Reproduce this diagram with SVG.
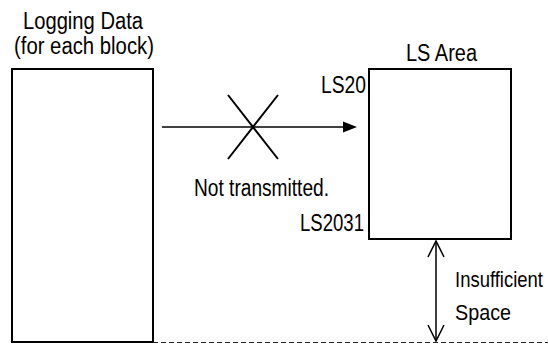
<svg xmlns="http://www.w3.org/2000/svg" width="548" height="344" viewBox="0 0 548 344">
<style>
text{font-family:"Liberation Sans Narrow","Liberation Sans",Arial,sans-serif;font-size:23px;fill:#000}
text.sm{font-size:19px}
.box{fill:#fff;stroke:#000;stroke-width:2}
.ln{stroke:#000;fill:none}
</style>
<rect width="548" height="344" fill="#fff"/>
<g id="logging-data">
<rect class="box" x="12" y="69" width="141" height="273"/>
<text x="23" y="29" textLength="120" lengthAdjust="spacingAndGlyphs">Logging Data</text>
<text x="14" y="54" textLength="140" lengthAdjust="spacingAndGlyphs">(for each block)</text>
</g>
<g id="ls-area">
<rect class="box" x="369" y="69" width="142" height="170"/>
<text x="406" y="61" textLength="71" lengthAdjust="spacingAndGlyphs">LS Area</text>
<text x="321" y="93" textLength="45" lengthAdjust="spacingAndGlyphs">LS20</text>
<text x="300" y="231" textLength="64" lengthAdjust="spacingAndGlyphs">LS2031</text>
</g>
<g id="connectors">
<line class="ln" x1="162" y1="127" x2="345" y2="127" stroke-width="1.4"/>
<polygon points="343,121.5 357,127 343,132.5" fill="#000"/>
<line class="ln" x1="228" y1="95" x2="278" y2="159" stroke-width="2"/>
<line class="ln" x1="278" y1="95" x2="228" y2="159" stroke-width="2"/>
<line class="ln" x1="436" y1="241" x2="436" y2="341" stroke-width="1.5"/>
<polyline class="ln" points="428,257 436,241 444,257" stroke-width="1.5"/>
<polyline class="ln" points="428,325 436,341 444,325" stroke-width="1.5"/>
<line x1="153" y1="342.5" x2="548" y2="342.5" stroke="#222" stroke-width="1.2" stroke-dasharray="5 3"/>
</g>
<g id="labels">
<text x="194" y="196" textLength="135" lengthAdjust="spacingAndGlyphs">Not transmitted.</text>
<text class="sm" transform="translate(455 287) scale(1 1.2)" textLength="88" lengthAdjust="spacingAndGlyphs">Insufficient</text>
<text class="sm" transform="translate(455 320) scale(1 1.2)" textLength="56" lengthAdjust="spacingAndGlyphs">Space</text>
</g>
</svg>
